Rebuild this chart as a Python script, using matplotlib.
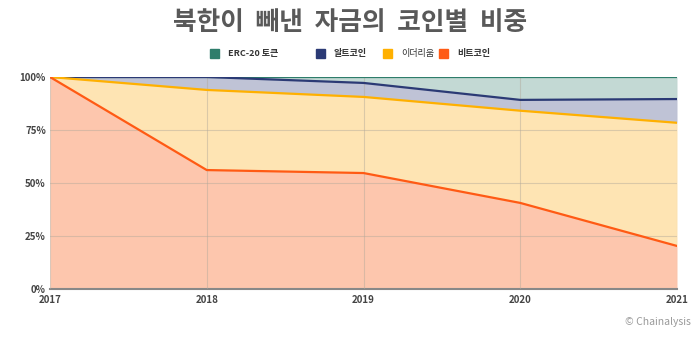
import matplotlib
matplotlib.use("Agg")
import matplotlib.pyplot as plt
import numpy as np

plt.rcParams['font.family'] = ['Noto Sans CJK KR', 'DejaVu Sans']

years = [2017, 2018, 2019, 2020, 2021]
btc = [100.0, 56.1, 54.7, 40.6, 20.3]
eth = [0.0, 37.8, 35.9, 43.5, 58.1]
alt = [0.0, 6.1, 6.6, 5.1, 11.2]
erc20 = [0.0, 0.0, 2.8, 10.8, 10.4]

series = [btc, eth, alt, erc20]
labels = ['비트코인', '이더리움', '알트코인', 'ERC-20 토큰']
line_colors = ['#ff5a14', '#ffb000', '#2b3a75', '#2e7d6b']
fill_colors = ['#fdc6ad', '#fee4b3', '#bfc3d6', '#c3d9d4']

fig = plt.figure(figsize=(7, 3.39), dpi=100)
ax = fig.add_axes([50/700, 1-289/339, 627/700, 212/339])

cum = np.cumsum(np.array(series), axis=0)
lower = np.zeros(len(years))
for i in range(len(series)):
    ax.fill_between(years, lower, cum[i], color=fill_colors[i], lw=0, zorder=1)
    lower = cum[i]
for i in range(len(series)):
    ax.plot(years, cum[i], color=line_colors[i], lw=1.6, zorder=3 + (len(series) - i) * 0.1)

ax.set_xlim(2017, 2021)
ax.set_ylim(0, 100)
ax.set_xticks(years)
ax.set_xticklabels([str(y) for y in years])
ax.set_yticks([0, 25, 50, 75, 100])
ax.set_yticklabels(['0%', '25%', '50%', '75%', '100%'])
ax.grid(True, color='#b0a89a', alpha=0.45, lw=0.8, zorder=2)
ax.set_axisbelow(False)
for s in ['top', 'right', 'left']:
    ax.spines[s].set_visible(False)
ax.spines['bottom'].set_color('#888888')
ax.spines['bottom'].set_linewidth(1.5)
ax.tick_params(axis='both', length=0, labelsize=7, colors='#444444', pad=3)
for lab in ax.get_xticklabels() + ax.get_yticklabels():
    lab.set_fontweight('bold')
ax.tick_params(axis='x', pad=4)

fig.text(0.5, 1-23/339, '북한이  빼낸  자금의  코인별  비중', ha='center', va='center',
         fontsize=18.5, fontweight='bold', color='#595959')

# legend
leg_items = [('ERC-20 토큰', '#2e7d6b', 210, 'bold'), ('알트코인', '#2b3a75', 316, 'bold'),
             ('이더리움', '#ffb000', 383, 'normal'), ('비트코인', '#ff5a14', 439, 'bold')]
for txt, col, xp, fw in leg_items:
    fig.patches.append(plt.Rectangle((xp/700, 1-58/339), 9/700, 9/339, transform=fig.transFigure,
                                     color=col, figure=fig))
    fig.text((xp + 18)/700, 1-53.5/339, txt, ha='left', va='center', fontsize=6.5,
             fontweight=fw, color='#333333')

fig.text(691/700, 1-322/339, '© Chainalysis', ha='right', va='center', fontsize=7.5, color='#999999')

fig.savefig('out.png', dpi=100, facecolor='white')
